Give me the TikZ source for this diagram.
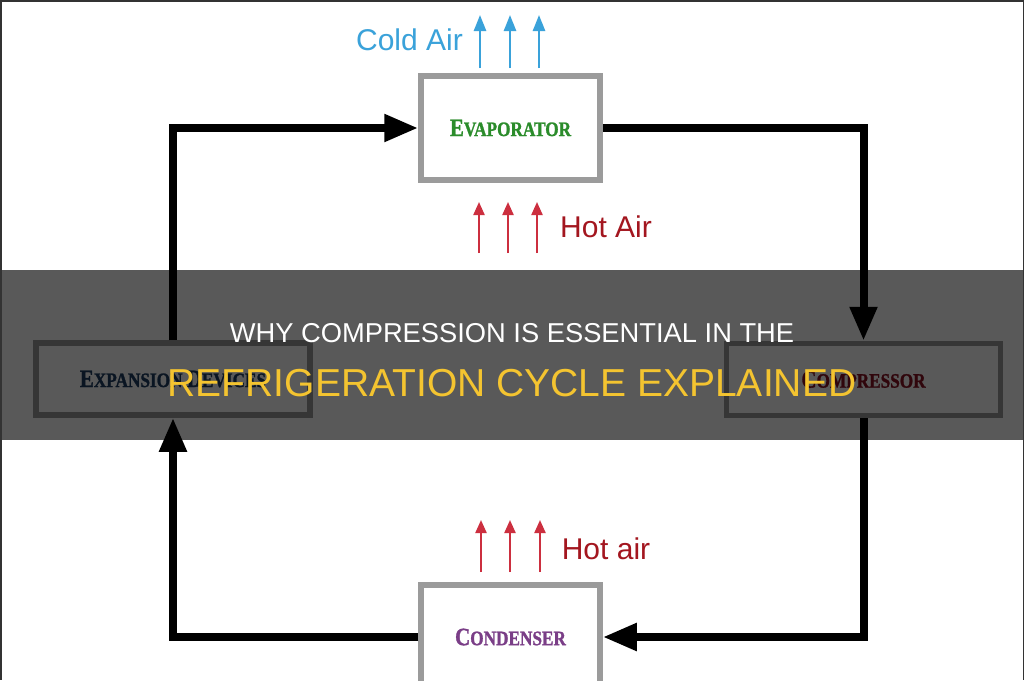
\documentclass[tikz,border=0pt]{standalone}
\usepackage{fontspec}
\setmainfont{Liberation Sans}
\newfontfamily\labelfont[FakeStretch=0.84, FakeBold=1.2]{Liberation Serif}
\usetikzlibrary{arrows.meta, positioning}

\definecolor{coldblue}{HTML}{3AA2DA}
\definecolor{hotred}{HTML}{A3161F}
\definecolor{hotarrow}{HTML}{CC2F3F}
\definecolor{evapgreen}{HTML}{2B8C2B}
\definecolor{condpurple}{HTML}{7A3E87}
\definecolor{expblue}{HTML}{1E3D63}
\definecolor{compred}{HTML}{8A1425}
\definecolor{boxgray}{HTML}{9B9B9B}
\definecolor{titleyellow}{HTML}{F4C430}
\definecolor{framegray}{HTML}{333333}

% small-caps look: big initial, smaller rest
\newcommand{\sclabel}[2]{{\fontsize{25}{25}\selectfont #1}{\fontsize{20.5}{20.5}\selectfont #2}}

\begin{document}
\begin{tikzpicture}[
    x=1pt, y=-1pt,
    % ── Node Styles ──
    unitbox/.style={
        rectangle, draw=boxgray, line width=5.5pt,
        fill=white, inner sep=0pt,
        font=\labelfont\bfseries
    },
    mainbox/.style={unitbox, minimum width=179pt, minimum height=104pt},
    sidebox/.style={unitbox, minimum width=274pt, minimum height=72pt},
    airlbl/.style={font=\fontsize{30}{30}\selectfont, inner sep=0pt},
    titlelbl/.style={inner sep=0pt},
    % ── Connector Styles ──
    arrow/.style={-{Triangle[length=34pt, width=26pt]}, line width=8pt, draw=black},
    coldflow/.style={-{Triangle[length=16pt, width=12pt]}, line width=2.5pt, draw=coldblue},
    hotflow/.style={-{Triangle[length=13pt, width=11pt]}, line width=2.2pt, draw=hotarrow},
]

\useasboundingbox (0,0) rectangle (1024,680);
\fill[white] (0,0) rectangle (1024,680);

% ════════════════════════════════════════════════════════
%  UNITS
% ════════════════════════════════════════════════════════

\node (evap) [mainbox, text=evapgreen] at (510.5,128)
    {\sclabel{E}{VAPORATOR}};

\node (cond) [mainbox, text=condpurple] at (510.5,637)
    {\sclabel{C}{ONDENSER}};

\node (exp) [sidebox, text=expblue] at (173,379)
    {\sclabel{E}{XPANSION }\sclabel{D}{EVICES}};

\node (comp) [sidebox, text=compred] at (863.5,379.5)
    {\sclabel{C}{OMPRESSOR}};

% ════════════════════════════════════════════════════════
%  REFRIGERANT LOOP
% ════════════════════════════════════════════════════════

\draw [arrow] (exp.north)  |- (evap.west);
\draw [arrow] (evap.east)  -| (comp.north);
\draw [arrow] (comp.south) |- (cond.east);
\draw [arrow] (cond.west)  -| (exp.south);

% ════════════════════════════════════════════════════════
%  AIR FLOWS
% ════════════════════════════════════════════════════════

% Cold air above the evaporator
\foreach \x [count=\i] in {480,510,539} {
    \coordinate (cold\i a) at (\x,68);
    \coordinate (cold\i b) at (\x,15);
    \draw [coldflow] (cold\i a) -- (cold\i b);
}
\node (coldlbl) [airlbl, text=coldblue, anchor=east] at (463,40) {Cold Air};

% Hot air below the evaporator
\foreach \x [count=\i] in {479,508,537} {
    \coordinate (hot\i a) at (\x,253);
    \coordinate (hot\i b) at (\x,202);
    \draw [hotflow] (hot\i a) -- (hot\i b);
}
\node (hotlbl) [airlbl, text=hotred] at (606,227) {Hot Air};

% Hot air above the condenser
\foreach \x [count=\i] in {481,510,540} {
    \coordinate (warm\i a) at (\x,572);
    \coordinate (warm\i b) at (\x,520);
    \draw [hotflow] (warm\i a) -- (warm\i b);
}
\node (warmlbl) [airlbl, text=hotred] at (606,549) {Hot air};

% ════════════════════════════════════════════════════════
%  TITLE BAND
% ════════════════════════════════════════════════════════

\fill [black, opacity=0.65] (0,270) rectangle (1024,440);

\node (title1) [titlelbl, text=white, font=\fontsize{27.3}{27.3}\selectfont]
    at (512,333) {WHY COMPRESSION IS ESSENTIAL IN THE};
\node (title2) [titlelbl, text=titleyellow, font=\fontsize{39}{39}\selectfont]
    at (512,383) {REFRIGERATION CYCLE EXPLAINED};

% frame
\draw [framegray, line width=3pt] (0,680) -- (0,0) -- (1024,0) -- (1024,680);

\end{tikzpicture}
\end{document}
